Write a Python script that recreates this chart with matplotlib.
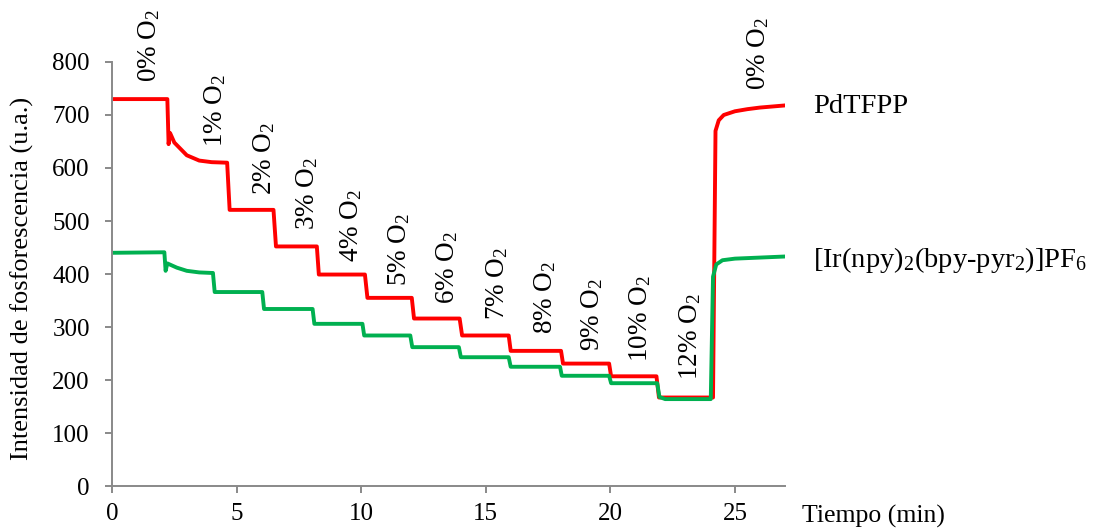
import numpy as np
import matplotlib.pyplot as plt

plt.rcParams['font.family'] = ['Liberation Serif', 'DejaVu Serif']
plt.rcParams['mathtext.fontset'] = 'custom'
plt.rcParams['mathtext.rm'] = 'Liberation Serif'
plt.rcParams['mathtext.it'] = 'Liberation Serif:italic'

# PdTFPP (rojo)
t_pd = [0, 2.22, 2.27, 2.33, 2.5, 3.0, 3.5, 4.0, 4.62, 4.72, 6.48, 6.58, 8.22, 8.3,
        10.15, 10.25, 12.03, 12.12, 13.95, 14.05, 15.92, 16.0, 18.02, 18.1, 19.95,
        20.03, 21.85, 21.95, 24.12, 24.22, 24.35, 24.55, 25.0, 25.5, 26.0, 27.0]
y_pd = [730, 730, 645, 666, 648, 624, 614, 611, 610, 521, 521, 452, 452, 399,
        399, 355, 355, 316, 316, 284, 284, 255, 255, 231, 231,
        207, 207, 167, 167, 670, 690, 700, 707, 711, 714, 718]

# [Ir(npy)2(bpy-pyr2)]PF6 (verde)
t_ir = [0, 2.1, 2.15, 2.22, 2.6, 3.0, 3.5, 4.0, 4.05, 4.12, 6.03, 6.1, 8.05, 8.12,
        10.05, 10.12, 11.97, 12.05, 13.92, 14.0, 15.92, 16.0, 17.98, 18.05, 19.95,
        20.03, 21.88, 21.97, 22.2, 24.03, 24.12, 24.25, 24.5, 25.0, 26.0, 27.0]
y_ir = [440, 441, 406, 420, 412, 406, 403, 402, 402, 366, 366, 334, 334, 306,
        306, 284, 284, 262, 262, 243, 243, 225, 225, 208, 208,
        194, 194, 168, 164, 164, 395, 418, 426, 429, 431, 433]

# Etiquetas de O2: texto, tiempo, intensidad (base del texto)
o2_labels = ['0%', '1%', '2%', '3%', '4%', '5%', '6%', '7%', '8%', '9%', '10%', '12%', '0%']
o2_t = [1.48, 4.12, 6.09, 7.85, 9.6, 11.53, 13.46, 15.46, 17.4, 19.26, 21.2, 23.2, 25.95]
o2_y = [762, 640, 549, 483, 423, 377, 343, 313, 287, 255, 234, 200, 747]

fig = plt.figure(figsize=(10.93, 5.28), dpi=100)
ax = fig.add_axes([0.1025, 0.0795, 0.6155, 0.8031])

ax.plot(t_pd, y_pd, color='#FF0000', lw=2.8)
ax.plot(t_ir, y_ir, color='#00B050', lw=2.8)

for lab, tt, yy in zip(o2_labels, o2_t, o2_y):
    ax.text(tt, yy, lab + ' O$_2$', rotation=90, ha='center', va='bottom',
            fontsize=19.5, clip_on=False)

ax.set_xlim(0, 27)
ax.set_ylim(0, 800)
ax.set_xticks([0, 5, 10, 15, 20, 25])
ax.set_yticks(np.arange(0, 801, 100))
for s in ['top', 'right']:
    ax.spines[s].set_visible(False)
for s in ['left', 'bottom']:
    ax.spines[s].set_color('#898989')
    ax.spines[s].set_linewidth(1.4)
ax.tick_params(axis='both', colors='#898989', labelcolor='black', labelsize=18,
               length=5, width=1.4, direction='out')
ax.tick_params(axis='x', pad=7)
ax.tick_params(axis='y', pad=11)

fig.text(22 / 1093, 1 - 278 / 528, 'Intensidad de fosforescencia (u.a.)',
         rotation=90, ha='center', va='center', fontsize=19)
fig.text(802 / 1093, 1 - 523 / 528, 'Tiempo (min)', ha='left', va='baseline', fontsize=18.5)
fig.text(813 / 1093, 1 - 113 / 528, 'PdTFPP', ha='left', va='baseline', fontsize=20.5)
fig.text(813 / 1093, 1 - 267 / 528, '[Ir(npy)$_2$(bpy-pyr$_2$)]PF$_6$',
         ha='left', va='baseline', fontsize=20.5)

fig.savefig('out.png', dpi=100)
